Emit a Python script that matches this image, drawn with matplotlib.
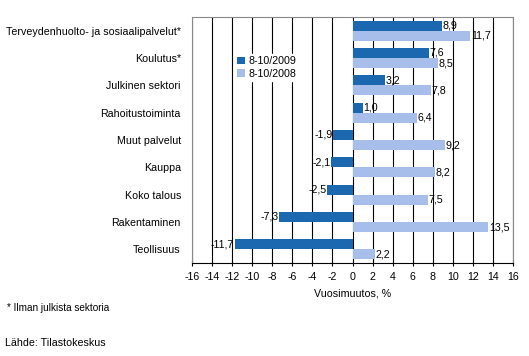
import numpy as np
import matplotlib.pyplot as plt

plt.rcParams["font.family"] = ["Liberation Sans", "DejaVu Sans"]

# Data (top to bottom as shown)
categories = ["Terveydenhuolto- ja sosiaalipalvelut*", "Koulutus*", "Julkinen sektori",
              "Rahoitustoiminta", "Muut palvelut", "Kauppa", "Koko talous",
              "Rakentaminen", "Teollisuus"]
vals_2009 = [8.9, 7.6, 3.2, 1.0, -1.9, -2.1, -2.5, -7.3, -11.7]
vals_2008 = [11.7, 8.5, 7.8, 6.4, 9.2, 8.2, 7.5, 13.5, 2.2]
series_labels = ["8-10/2009", "8-10/2008"]
xticks = list(range(-16, 17, 2))

c_dark = "#1c68b0"
c_light = "#a7bdea"
fs = 7.7

fig = plt.figure(figsize=(5.29, 3.56), dpi=100)
ax = fig.add_axes([192 / 529, 1 - 263 / 356, (513 - 192) / 529, (263 - 17) / 356])

n = len(categories)
y = np.arange(n)[::-1].astype(float)
h = 0.37
b1 = ax.barh(y + h / 2, vals_2009, height=h, color=c_dark, label=series_labels[0], zorder=3)
b2 = ax.barh(y - h / 2, vals_2008, height=h, color=c_light, label=series_labels[1], zorder=3)

for bars, vals in ((b1, vals_2009), (b2, vals_2008)):
    for bar, v in zip(bars, vals):
        yc = bar.get_y() + bar.get_height() / 2
        txt = f"{v:.1f}".replace(".", ",")
        if v >= 0:
            ax.text(v + 0.1, yc, txt, ha="left", va="center", fontsize=fs, zorder=4)
        else:
            ax.text(v - 0.1, yc, txt, ha="right", va="center", fontsize=fs, zorder=4)

ax.set_xlim(-16, 16)
ax.set_ylim(-0.5, n - 0.5)
ax.set_xticks(xticks)
ax.set_xticklabels([str(t) for t in xticks], fontsize=fs)
ax.set_yticks(y)
ax.set_yticklabels(categories, fontsize=fs)
ax.tick_params(axis="y", length=0, pad=8)
ax.tick_params(axis="x", direction="inout", length=5, width=0.8, pad=4)
ax.xaxis.grid(True, color="black", linewidth=0.8, zorder=0)
ax.set_axisbelow(True)
for side in ("top", "right", "left"):
    ax.spines[side].set_color("#888888")
    ax.spines[side].set_linewidth(0.8)
ax.spines["bottom"].set_color("black")
ax.spines["bottom"].set_linewidth(0.8)
ax.set_xlabel("Vuosimuutos, %", fontsize=fs, labelpad=5)

leg = ax.legend(loc="upper left", bbox_to_anchor=(0.135, 0.85), fontsize=fs,
                frameon=True, fancybox=False, edgecolor="white", framealpha=1,
                handlelength=0.7, handleheight=0.7, handletextpad=0.3,
                borderpad=0.2, labelspacing=0.25, borderaxespad=0)
leg.set_zorder(5)

fig.text(7 / 529, 1 - 308 / 356, "* Ilman julkista sektoria", fontsize=fs - 0.5, va="center")
fig.text(5 / 529, 1 - 343 / 356, "Lähde: Tilastokeskus", fontsize=fs, va="center")

fig.savefig("out.png", dpi=100)
